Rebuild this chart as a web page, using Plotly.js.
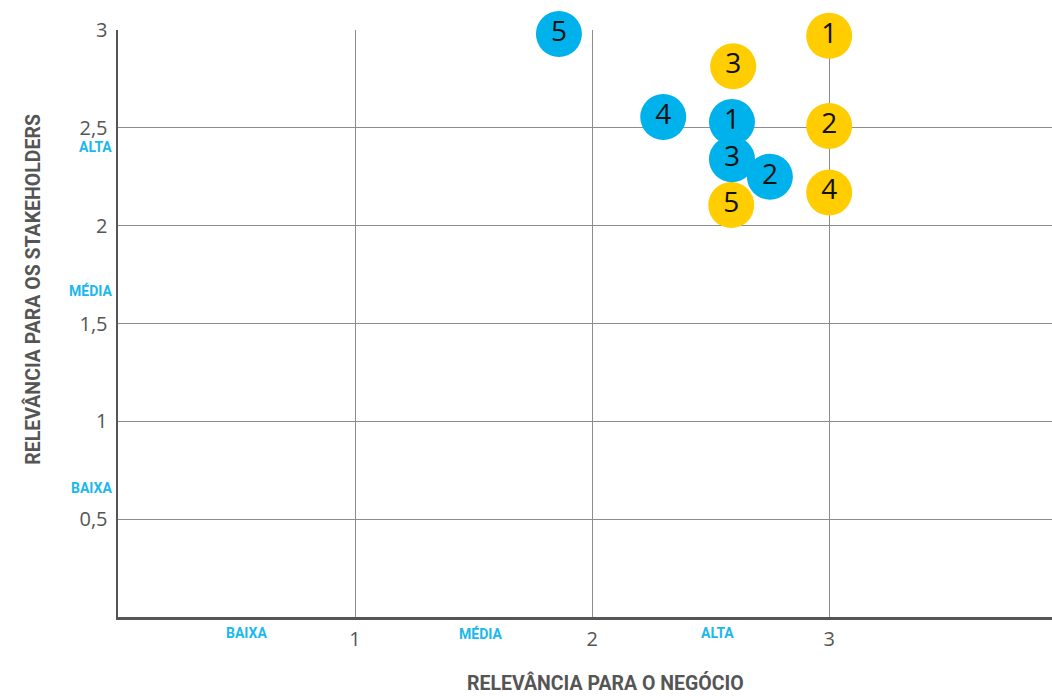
<!DOCTYPE html>
<html>
<head>
<meta charset="utf-8">
<script src="https://cdn.plot.ly/plotly-3.0.1.min.js"></script>
<style>html,body{margin:0;padding:0;background:#fff;}#chart{width:1052px;height:696px;}</style>
</head>
<body>
<div id="chart"></div>
<script>
// Data
const blueLabels = ['5', '4', '1', '3', '2'];
const blueX = [1.86, 2.30, 2.59, 2.59, 2.75];
const blueY = [2.98, 2.555, 2.53, 2.34, 2.25];

const yellowLabels = ['1', '3', '2', '4', '5'];
const yellowX = [3.0, 2.595, 3.0, 3.0, 2.587];
const yellowY = [2.97, 2.815, 2.51, 2.17, 2.105];

const xTickVals = [1, 2, 3];
const yTickVals = [0.5, 1, 1.5, 2, 2.5, 3];
const levelLabels = ['BAIXA', 'MÉDIA', 'ALTA'];

const xTitle = 'RELEVÂNCIA PARA O NEGÓCIO';
const yTitle = 'RELEVÂNCIA PARA OS STAKEHOLDERS';

const BLUE = '#00b2ec';
const YELLOW = '#ffcd00';
const CYAN_TXT = '#1ab8ee';
const GREY_TXT = '#555555';

function pointTrace(xs, ys, labels, color) {
  return {
    type: 'scatter', mode: 'markers+text',
    x: xs, y: ys, text: labels,
    textposition: 'middle center',
    textfont: {family: 'Open Sans, sans-serif', size: 28, color: '#111'},
    marker: {size: 46, color: color, line: {width: 0}},
    cliponaxis: false, hoverinfo: 'skip', showlegend: false
  };
}

const data = [
  pointTrace(yellowX, yellowY, yellowLabels, YELLOW),
  pointTrace(blueX, blueY, blueLabels, BLUE)
];

const lvlFont = {family: 'Roboto, sans-serif', size: 14, color: CYAN_TXT, weight: 700};
const annotations = [];
// x-axis level labels (between ticks)
const xLevelPos = [0.54, 1.53, 2.53];
levelLabels.forEach((t, i) => annotations.push({
  text: t, x: xLevelPos[i], xref: 'x', y: -0.028, yref: 'paper',
  showarrow: false, font: lvlFont, xanchor: 'center', yanchor: 'middle'
}));
// y-axis level labels
const yLevelPos = [0.66, 1.67, 2.40];
levelLabels.forEach((t, i) => annotations.push({
  text: t, x: 0, xref: 'paper', xshift: -4, y: yLevelPos[i], yref: 'y',
  showarrow: false, font: lvlFont, xanchor: 'right', yanchor: 'middle'
}));
// axis titles
const titleFont = {family: 'Liberation Sans Narrow, Roboto, sans-serif', size: 19.5, color: GREY_TXT, weight: 700};
annotations.push({
  text: xTitle, x: 0.522, xref: 'paper', y: -0.112, yref: 'paper',
  showarrow: false, font: titleFont, xanchor: 'center', yanchor: 'middle'
});
annotations.push({
  text: yTitle, x: -0.0905, xref: 'paper', y: 1.675, yref: 'y',
  textangle: -90,
  showarrow: false, font: titleFont, xanchor: 'center', yanchor: 'middle'
});

const layout = {
  width: 1052, height: 696,
  margin: {l: 118, r: 0, t: 30, b: 79},
  paper_bgcolor: '#fff', plot_bgcolor: '#fff',
  separators: ',.',
  showlegend: false,
  xaxis: {
    range: [0, 3.94], tickvals: xTickVals, ticks: '',
    showgrid: true, gridcolor: '#8c8c8c', gridwidth: 1,
    zeroline: false, showline: true, linecolor: '#555', linewidth: 2.5,
    tickfont: {family: 'Open Sans, sans-serif', size: 20, color: GREY_TXT},
    ticklabelstandoff: 2, fixedrange: true
  },
  yaxis: {
    range: [0, 3], tickvals: yTickVals, ticks: '',
    showgrid: true, gridcolor: '#8c8c8c', gridwidth: 1,
    zeroline: false, showline: true, linecolor: '#555', linewidth: 2.5,
    tickfont: {family: 'Open Sans, sans-serif', size: 20, color: GREY_TXT},
    ticklabelstandoff: 4, fixedrange: true
  },
  annotations: annotations
};

Plotly.newPlot('chart', data, layout, {displayModeBar: false, staticPlot: true});
</script>
</body>
</html>
